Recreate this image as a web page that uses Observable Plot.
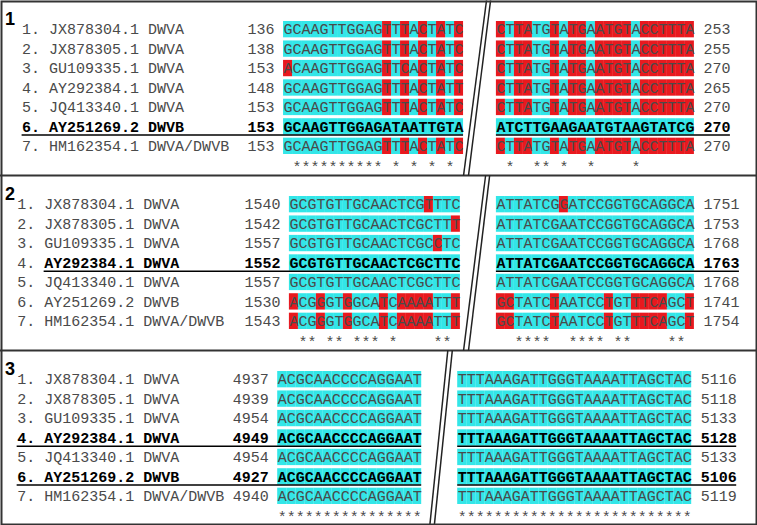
<!DOCTYPE html>
<html><head><meta charset="utf-8">
<script src="https://cdn.jsdelivr.net/npm/d3@7"></script>
<script src="https://cdn.jsdelivr.net/npm/@observablehq/plot@0.6"></script>
<style>html,body{margin:0;padding:0;background:#fff;}</style>
</head><body><div id="chart"></div>
<script>
// ---------------- data ----------------
const rowIds = ["1.","2.","3.","4.","5.","6.","7."];
const accessions = ["JX878304.1 DWVA","JX878305.1 DWVA","GU109335.1 DWVA","AY292384.1 DWVA","JQ413340.1 DWVA","AY251269.2 DWVB","HM162354.1 DWVA/DWVB"];

// Panel 1
const p1LeftStart = [136,138,153,148,153,153,153];
const p1RightEnd  = [253,255,270,265,270,270,270];
const p1LeftSeq = ["GCAAGTTGGAGTTTACTATC","GCAAGTTGGAGTTTACTATC","ACAAGTTGGAGTTCACTATC","GCAAGTTGGAGTTTACTATT","GCAAGTTGGAGTTTACTATC","GCAAGTTGGAGATAATTGTA","GCAAGTTGGAGTTTACTATC"];
const p1LeftMask = ["cccccccccccrcrcrcrcr","cccccccccccrcrcrcrcr","rccccccccccrcrcrcrcr","cccccccccccrcrcrcrcr","cccccccccccrcrcrcrcr","cccccccccccccccccccc","cccccccccccrcrcrcrcr"];
const p1RightSeq = ["CTTATGTATGAATGTACCTTTA","CTTATGTATGAATGTACCTTTA","CTTATGTATGAATGTACCTTTA","CTTATGTATGAATGTACCTTTA","CTTATGTATGAATGTACCTTTA","ATCTTGAAGAATGTAAGTATCG","CTTATGTATGAATGTACCTTTA"];
const p1RightMask = ["rcrrccrcrrcrrrrcrrrrrr","rcrrccrcrrcrrrrcrrrrrr","rcrrccrcrrcrrrrcrrrrrr","rcrrccrcrrcrrrrcrrrrrr","rcrrccrcrrcrrrrcrrrrrr","cccccccccccccccccccccc","rcrrccrcrrcrrrrcrrrrrr"];
const p1LeftStars  = " ********** * * * * ";
const p1RightStars = " *  ** *  *    *      ";

// Panel 2
const p2LeftStart = [1540,1542,1557,1552,1557,1530,1543];
const p2RightEnd  = [1751,1753,1768,1763,1768,1741,1754];
const p2LeftSeq = ["GCGTGTTGCAACTCGTTTC","GCGTGTTGCAACTCGCTTT","GCGTGTTGCAACTCGCCTC","GCGTGTTGCAACTCGCTTC","GCGTGTTGCAACTCGCTTC","ACGGGTGGCATCAAAATTT","ACGGGTGGCATCAAAATTT"];
const p2LeftMask = ["cccccccccccccccrccc","ccccccccccccccccccr","ccccccccccccccccrcc","ccccccccccccccccccc","ccccccccccccccccccc","rccrccrcccrcrrrrccr","rccrccrcccrcrrrrccr"];
const p2RightSeq = ["ATTATCGGATCCGGTGCAGGCA","ATTATCGAATCCGGTGCAGGCA","ATTATCGAATCCGGTGCAGGCA","ATTATCGAATCCGGTGCAGGCA","ATTATCGAATCCGGTGCAGGCA","GCTATCTAATCCTGTTTCAGCT","GCTATCTAATCCTGTTTCAGCT"];
const p2RightMask = ["cccccccrcccccccccccccc","cccccccccccccccccccccc","cccccccccccccccccccccc","cccccccccccccccccccccc","cccccccccccccccccccccc","rrccccrcccccrccrrrrccr","rrccccrcccccrccrrrrccr"];
const p2LeftStars  = " ** ** *** *    ** ";
const p2RightStars = "  ****  **** **    ** ";

// Panel 3
const p3LeftStart = [4937,4939,4954,4949,4954,4927,4940];
const p3RightEnd  = [5116,5118,5133,5128,5133,5106,5119];
const p3LeftSeq = Array(7).fill("ACGCAACCCCAGGAAT");
const p3LeftMask = Array(7).fill("cccccccccccccccc");
const p3RightSeq = Array(7).fill("TTTAAAGATTGGGTAAAATTAGCTAC");
const p3RightMask = Array(7).fill("cccccccccccccccccccccccccc");
const p3LeftStars  = "****************";
const p3RightStars = "**************************";

const panels = [
  {id:"1", leftStart:p1LeftStart, rightEnd:p1RightEnd, leftSeq:p1LeftSeq, leftMask:p1LeftMask, rightSeq:p1RightSeq, rightMask:p1RightMask, leftStars:p1LeftStars, rightStars:p1RightStars, bold:[5], boldPrefix:true},
  {id:"2", leftStart:p2LeftStart, rightEnd:p2RightEnd, leftSeq:p2LeftSeq, leftMask:p2LeftMask, rightSeq:p2RightSeq, rightMask:p2RightMask, leftStars:p2LeftStars, rightStars:p2RightStars, bold:[3], boldPrefix:false},
  {id:"3", leftStart:p3LeftStart, rightEnd:p3RightEnd, leftSeq:p3LeftSeq, leftMask:p3LeftMask, rightSeq:p3RightSeq, rightMask:p3RightMask, leftStars:p3LeftStars, rightStars:p3RightStars, bold:[3,5], boldPrefix:true}
];

// ---------------- layout (x in character columns, y in text lines) ----------------
const layout = [
  {labelX:2.4,  seqL:31.45, seqR:55.1, divTop:[54.0,54.45], divBot:[51.45,52.0]},
  {labelX:1.85, seqL:32.1,  seqR:55.1, divTop:[53.9,54.35], divBot:[51.45,52.0]},
  {labelX:1.85, seqL:30.8,  seqR:50.8, divTop:[49.7,50.2],  divBot:[47.7,48.2]}
];
const PANEL_LINES = 9, FIRST_ROW = 1.5, STAR_ROW = 8.55, HALF = 0.42;
const CYAN = "#33E6E8", RED = "#E8191E", GRAY = "#4a4a4a";
const MONO = "'Liberation Mono','Courier New',monospace";

const cells = [], chars = [], prefixes = [], names = [], numsL = [], numsR = [], underlines = [], stars = [], dividers = [], panelNums = [];
panels.forEach((P, p) => {
  const L = layout[p];
  const top = p * PANEL_LINES;
  panelNums.push({x: 0.5, y: top + 0.95, t: P.id});
  dividers.push({x1: L.divTop[0], x2: L.divBot[0], y1: top, y2: top + PANEL_LINES});
  dividers.push({x1: L.divTop[1], x2: L.divBot[1], y1: top, y2: top + PANEL_LINES});
  for (let r = 0; r < 7; r++) {
    const yc = top + FIRST_ROW + r;
    const bold = P.bold.includes(r);
    const addSeq = (seq, mask, x0) => {
      [...seq].forEach((ch, i) => {
        cells.push({x1: x0 + i, x2: x0 + i + 1, y1: yc - HALF, y2: yc + HALF, red: mask[i] === "r"});
        chars.push({x: x0 + i + 0.5, y: yc, t: ch, bold});
      });
    };
    addSeq(P.leftSeq[r], P.leftMask[r], L.seqL);
    addSeq(P.rightSeq[r], P.rightMask[r], L.seqR);
    prefixes.push({x: L.labelX, y: yc, t: rowIds[r], bold: bold && P.boldPrefix});
    names.push({x: L.labelX + 3, y: yc, t: accessions[r], bold});
    numsL.push({x: L.seqL - 1, y: yc, t: String(P.leftStart[r]), bold});
    const rn = String(P.rightEnd[r]);
    const rx = L.seqR + P.rightSeq[r].length + 1;
    numsR.push({x: rx, y: yc, t: rn, bold});
    if (bold) {
      const ux = P.boldPrefix ? L.labelX : L.labelX + 3;
      underlines.push({x1: ux, x2: L.seqL + P.leftSeq[r].length, y: yc + HALF});
      underlines.push({x1: L.seqR, x2: rx + rn.length, y: yc + HALF});
    }
  }
  [[P.leftStars, L.seqL], [P.rightStars, L.seqR]].forEach(([s, x0]) => {
    [...s].forEach((ch, i) => { if (ch === "*") stars.push({x: x0 + i + 0.5, y: top + STAR_ROW}); });
  });
});

const textMarks = (data, opts) => [
  Plot.text(data.filter(d => !d.bold), {x: "x", y: "y", text: "t", fill: GRAY, fontWeight: "normal", fontFamily: MONO, fontSize: 15, ...opts}),
  Plot.text(data.filter(d => d.bold), {x: "x", y: "y", text: "t", fill: "#000", fontWeight: "bold", fontFamily: MONO, fontSize: 15, ...opts})
];

const chart = Plot.plot({
  width: 757, height: 525, margin: 0,
  x: {domain: [0, 757 / 9], range: [0, 757], axis: null},
  y: {domain: [0, 27], range: [0, 525], axis: null},
  marks: [
    Plot.rect(cells.filter(d => !d.red), {x1: "x1", x2: "x2", y1: "y1", y2: "y2", fill: CYAN}),
    Plot.rect(cells.filter(d => d.red), {x1: "x1", x2: "x2", y1: "y1", y2: "y2", fill: RED}),
    ...textMarks(chars, {textAnchor: "middle"}),
    ...textMarks(prefixes, {textAnchor: "start"}),
    ...textMarks(names, {textAnchor: "start"}),
    ...textMarks(numsL, {textAnchor: "end"}),
    ...textMarks(numsR, {textAnchor: "start"}),
    Plot.ruleY(underlines, {y: "y", x1: "x1", x2: "x2", stroke: "#000", strokeWidth: 1.5}),
    Plot.text(stars, {x: "x", y: "y", text: () => "*", fill: GRAY, fontFamily: MONO, fontSize: 15}),
    Plot.text(panelNums, {x: "x", y: "y", text: "t", textAnchor: "start", fontFamily: "'Liberation Sans',Arial,sans-serif", fontWeight: "bold", fontSize: 18, fill: "#000"}),
    Plot.ruleY([PANEL_LINES, 2 * PANEL_LINES], {stroke: "#333", strokeWidth: 2}),
    Plot.link(dividers, {x1: "x1", x2: "x2", y1: "y1", y2: "y2", stroke: "#222", strokeWidth: 1.5}),
    Plot.frame({stroke: "#333", strokeWidth: 2, inset: 1})
  ]
});
document.getElementById("chart").appendChild(chart);
</script>
</body></html>
